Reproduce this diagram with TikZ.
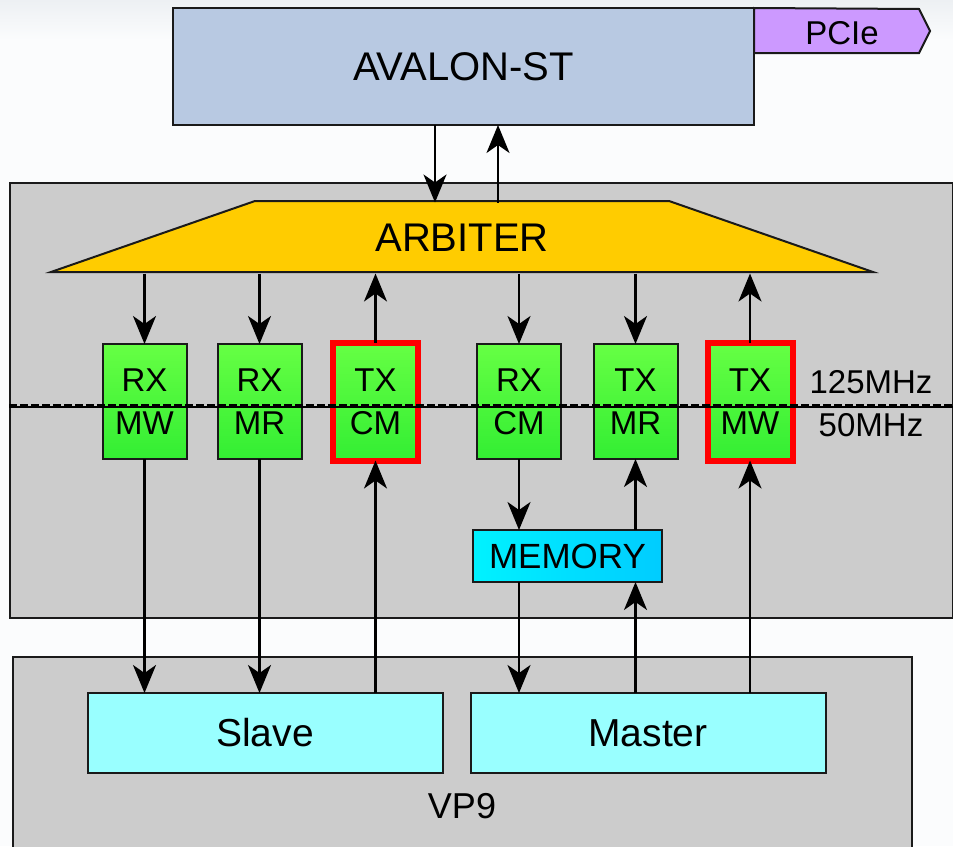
\documentclass[tikz,border=0pt]{standalone}
\usepackage{fontspec}
\setmainfont{Liberation Sans}
\usetikzlibrary{arrows.meta,calc}
\definecolor{avalonfill}{HTML}{B8C9E2}
\definecolor{pciefill}{HTML}{CC99FF}
\definecolor{greyfill}{HTML}{CCCCCC}
\definecolor{arbfill}{HTML}{FFCC00}
\definecolor{greentop}{HTML}{66FF44}
\definecolor{greenbot}{HTML}{33EE33}
\definecolor{memleft}{HTML}{00F2FF}
\definecolor{memright}{HTML}{00CCFF}
\definecolor{cyanfill}{HTML}{99FFFF}
\definecolor{edge}{HTML}{1A1A1A}
\definecolor{bgtop}{HTML}{EDF0F3}
\definecolor{bgbot}{HTML}{FBFCFD}
\tikzset{
  blk/.style={draw=edge, line width=2pt, inner sep=0pt, outer sep=0pt, align=center},
  greenbox/.style={blk, top color=greentop, bottom color=greenbot, minimum width=84pt, minimum height=115pt, font=\fontsize{33}{43}\selectfont},
  redbox/.style={greenbox, draw=red, line width=6pt, minimum width=85pt, minimum height=118pt},
  cyanbox/.style={blk, fill=cyanfill, minimum width=355pt, minimum height=80pt, font=\fontsize{39}{44}\selectfont},
  arr/.style={draw=black, line width=2.2pt, -{Stealth[length=28pt,width=23pt,inset=8pt]}},
  lbl/.style={inner sep=0pt, outer sep=0pt}
}
\begin{document}
\begin{tikzpicture}[x=1pt,y=-1pt]
\useasboundingbox (0,0) rectangle (953,846);
% background
\shade[top color=bgtop, bottom color=bgbot, middle color=bgbot] (0,0) rectangle (953,80);
\fill[bgbot] (0,80) rectangle (953,846);

% AVALON-ST and PCIe
\node[blk, fill=avalonfill, minimum width=581pt, minimum height=117pt, font=\fontsize{40}{44}\selectfont] (avalon) at (463.5,66.5) {AVALON-ST};
\filldraw[fill=pciefill, draw=edge, line width=2pt] (avalon.north east) -- (919,9) -- (930,31) -- (919,53) -- (754,53) -- cycle;
\node[lbl, font=\fontsize{33}{40}\selectfont] (pcie) at (842,33) {PCIe};

% big grey box
\node[blk, fill=greyfill, minimum width=943pt, minimum height=435pt] (core) at (481,400.5) {};

% VP9 box
\node[blk, fill=greyfill, minimum width=899pt, minimum height=200pt] (vp9box) at (462.5,757) {};
\node[lbl, font=\fontsize{36}{44}\selectfont] (vp9) at (462,806) {VP9};

% arbiter
\filldraw[fill=arbfill, draw=edge, line width=2pt, line join=miter] (255,201) -- (669,201) -- (873,272) -- (51,272) -- cycle;
\node[lbl, minimum width=822pt, minimum height=71pt, font=\fontsize{40}{44}\selectfont] (arb) at (462,238) {ARBITER};

% channel boxes
\node[greenbox] (rxmw) at (144.5,401.5) {RX\\MW};
\node[greenbox] (rxmr) at (259.5,401.5) {RX\\MR};
\node[redbox]   (txcm) at (375.5,401.5) {TX\\CM};
\node[greenbox] (rxcm) at (519,401.5) {RX\\CM};
\node[greenbox] (txmr) at (635.5,401.5) {TX\\MR};
\node[redbox]   (txmw) at (750,401.5) {TX\\MW};

% clock domain line
\coordinate (clkL) at (9,407);
\coordinate (clkR) at (953,407);
\draw[black, line width=1.2pt] (clkL) -- (clkR);
\draw[black, line width=2.6pt, dash pattern=on 8pt off 3pt] ($(clkL)+(0,-1.5)$) -- ($(clkR)+(0,-1.5)$);
\node[lbl, font=\fontsize{33}{36}\selectfont] (f125) at (871,382) {125MHz};
\node[lbl, font=\fontsize{33}{36}\selectfont] (f50) at (871,425) {50MHz};

% memory
\node[blk, left color=memleft, right color=memright, minimum width=189pt, minimum height=52pt, font=\fontsize{35}{40}\selectfont] (mem) at (567.5,556) {MEMORY};

% slave / master
\node[cyanbox] (slave) at (265,733) {Slave};
\node[cyanbox] (master) at (648,733) {Master};

% arrows avalon <-> arbiter
\coordinate (dnx) at (435,0);
\coordinate (upx) at (498,0);
\draw[arr] (avalon.south -| dnx) -- (arb.north -| dnx);
\draw[arr] (arb.north -| upx) -- (avalon.south -| upx);

% arbiter <-> channels
\draw[arr] (arb.south -| rxmw) -- (rxmw.north);
\draw[arr] (arb.south -| rxmr) -- (rxmr.north);
\draw[arr] (txcm.north) -- (arb.south -| txcm);
\draw[arr] (arb.south -| rxcm) -- (rxcm.north);
\draw[arr] (arb.south -| txmr) -- (txmr.north);
\draw[arr] (txmw.north) -- (arb.south -| txmw);

% channels <-> slave
\draw[arr] (rxmw.south) -- (slave.north -| rxmw);
\draw[arr] (rxmr.south) -- (slave.north -| rxmr);
\draw[arr] (slave.north -| txcm) -- (txcm.south);

% memory paths
\draw[arr] (rxcm.south) -- (mem.north -| rxcm);
\draw[arr] (mem.north -| txmr) -- (txmr.south);
\draw[arr] (mem.south -| rxcm) -- (master.north -| rxcm);
\draw[arr] (master.north -| txmr) -- (mem.south -| txmr);
\draw[arr] (master.north -| txmw) -- (txmw.south);
\end{tikzpicture}
\end{document}
